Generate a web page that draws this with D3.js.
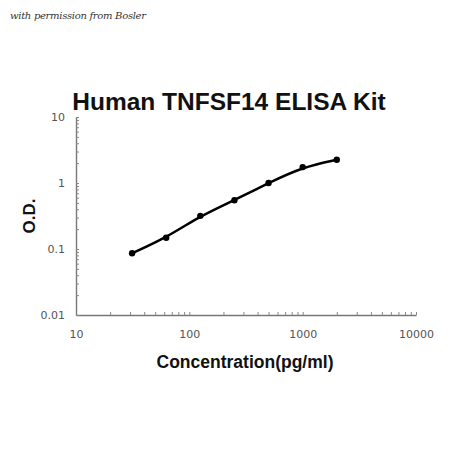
<!DOCTYPE html>
<html>
<head>
<meta charset="utf-8">
<script src="https://cdn.jsdelivr.net/npm/d3@7"></script>
<style>
  body { margin: 0; background: #fff; }
  text { font-family: "Liberation Sans", Arial, sans-serif; }
</style>
</head>
<body>
<div id="gv"></div>
<script>
// standard curve readings
let concentrations = [31.25, 62.5, 125, 250, 500, 1000, 2000];
let odValues = [0.086, 0.148, 0.318, 0.548, 1.0, 1.74, 2.25];
let xTickLabels = [10, 100, 1000, 10000];
let yTickLabels = [0.01, 0.1, 1, 10];

let width = 450;
let height = 450;

let xScale = d3.scaleLog().domain([10, 10000]).range([76, 416]);
let yScale = d3.scaleLog().domain([0.01, 10]).range([315, 117]);

let viz = d3.select("#gv")
  .append("svg")
    .attr("width", width)
    .attr("height", height)
;

viz.append("text")
  .attr("x", 10)
  .attr("y", 19)
  .style("font-family", "'DejaVu Serif', serif")
  .style("font-style", "italic")
  .style("font-size", "10px")
  .attr("fill", "#333")
  .attr("textLength", 136)
  .text("with permission from Bosler");

viz.append("text")
  .attr("x", 229)
  .attr("y", 110)
  .attr("text-anchor", "middle")
  .style("font-size", "24.5px")
  .style("font-weight", "bold")
  .attr("fill", "#111")
  .text("Human TNFSF14 ELISA Kit");

// minor ticks for each decade
function minorTicks(scale){
  let out = [];
  let d = scale.domain();
  for (let p = d[0]; p < d[1]; p *= 10) {
    for (let k = 1; k < 10; k++) out.push(p * k);
  }
  out.push(d[1]);
  return out;
}

let xAxis = d3.axisBottom(xScale)
  .tickValues(minorTicks(xScale))
  .tickSizeInner(-3)
  .tickSizeOuter(0)
  .tickFormat(d => xTickLabels.includes(d) ? d : "");

let yAxis = d3.axisLeft(yScale)
  .tickValues(minorTicks(yScale))
  .tickSizeInner(-3)
  .tickSizeOuter(0)
  .tickFormat(d => yTickLabels.includes(d) ? d : "");

let gx = viz.append("g")
  .attr("transform", "translate(0,315)")
  .call(xAxis);

let gy = viz.append("g")
  .attr("transform", "translate(76,0)")
  .call(yAxis);

[gx, gy].forEach(g => {
  g.select(".domain").attr("stroke", "#777").attr("stroke-width", 1.4);
  g.selectAll(".tick line").attr("stroke", "#888");
  g.selectAll(".tick text")
    .attr("fill", "#555")
    .style("font-size", "11px")
    .style("font-family", "'DejaVu Sans', sans-serif");
});
gx.selectAll(".tick text").attr("y", 15);
gy.selectAll(".tick text").attr("x", -11);

viz.append("text")
  .attr("x", 245)
  .attr("y", 368)
  .attr("text-anchor", "middle")
  .style("font-size", "17.5px")
  .style("font-weight", "bold")
  .attr("fill", "#111")
  .text("Concentration(pg/ml)");

viz.append("text")
  .attr("transform", "translate(35,216) rotate(-90)")
  .attr("text-anchor", "middle")
  .style("font-size", "17px")
  .style("font-weight", "bold")
  .attr("fill", "#111")
  .text("O.D.");

let points = concentrations.map((c, i) => [c, odValues[i]]);

// smoothed standard curve (points sit close to, not exactly on, the fit)
let line = d3.line()
  .x(d => xScale(d[0]))
  .y(d => yScale(d[1]))
  .curve(d3.curveBasis);

viz.append("path")
  .datum(points)
  .attr("d", line)
  .attr("fill", "none")
  .attr("stroke", "#000")
  .attr("stroke-width", 2.5);

viz.selectAll("circle").data(points)
  .enter()
    .append("circle")
    .attr("cx", d => xScale(d[0]))
    .attr("cy", d => yScale(d[1]))
    .attr("r", 3.2)
    .attr("fill", "#000")
;
</script>
</body>
</html>
